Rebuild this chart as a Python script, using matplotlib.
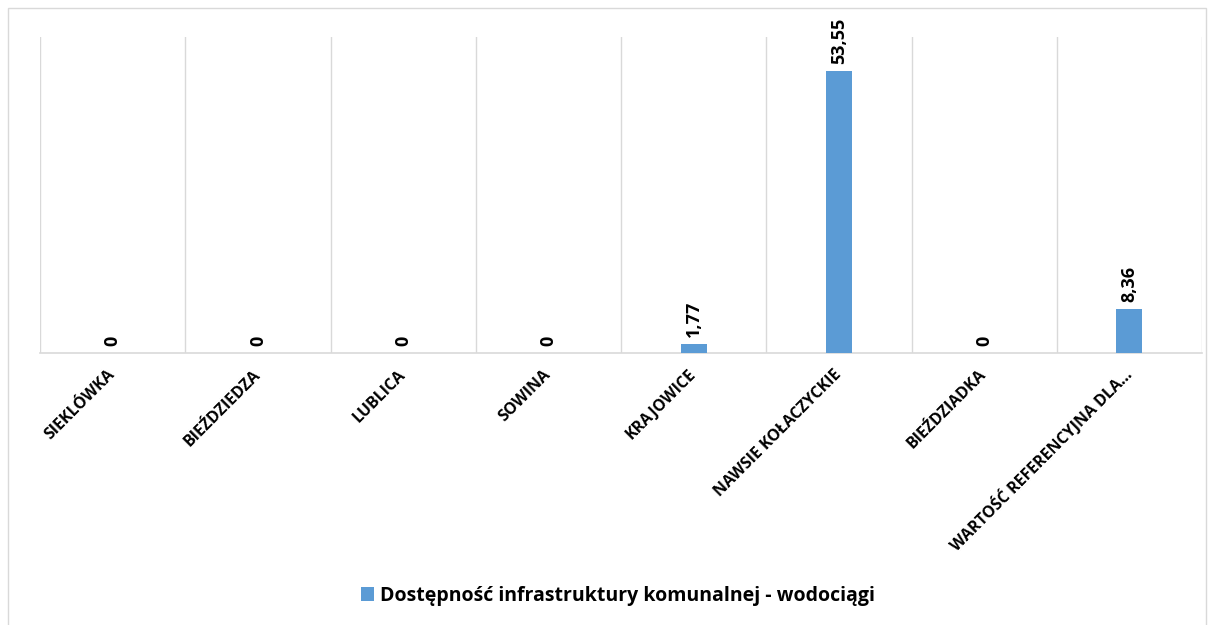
import matplotlib.pyplot as plt
from matplotlib.patches import Rectangle

categories = ['SIEKLÓWKA', 'BIEŹDZIEDZA', 'LUBLICA', 'SOWINA', 'KRAJOWICE',
              'NAWSIE KOŁACZYCKIE', 'BIEŹDZIADKA', 'WARTOŚĆ REFERENCYJNA DLA...']
values = [0, 0, 0, 0, 1.77, 53.55, 0, 8.36]
value_labels = ['0', '0', '0', '0', '1,77', '53,55', '0', '8,36']
series_name = 'Dostępność infrastruktury komunalnej - wodociągi'

BLUE = '#5B9BD5'
GRID = '#D9D9D9'
plt.rcParams['font.family'] = ['Open Sans', 'DejaVu Sans']

fig = plt.figure(figsize=(12.08, 6.25), dpi=100)
ax = fig.add_axes([40 / 1208, 1 - 353 / 625, 1162 / 1208, 316 / 625])

x = list(range(len(categories)))
bars = ax.bar(x, values, width=0.18, color=BLUE, label=series_name, zorder=3)

for xi, v, lab in zip(x, values, value_labels):
    ax.annotate(lab, (xi, v), xytext=(0, 5), textcoords='offset points',
                rotation=90, ha='center', va='bottom', fontsize=13,
                fontweight='bold', color='#000000')

# vertical gridlines between categories
for b in range(len(categories) + 1):
    ax.axvline(b - 0.5, color=GRID, lw=1, zorder=1)

ax.set_xlim(-0.5, len(categories) - 0.5)
ax.set_ylim(0, 60)
ax.set_yticks([])
ax.set_xticks(x)
ax.set_xticklabels(categories, rotation=45, ha='right', va='center',
                   rotation_mode='anchor', fontsize=11.5, fontweight='bold',
                   color='#000000')
ax.tick_params(axis='x', length=0, pad=14)
for s in ['top', 'left', 'right']:
    ax.spines[s].set_visible(False)
ax.spines['bottom'].set_color(GRID)
ax.spines['bottom'].set_linewidth(1.2)

fig.legend(handles=[bars], labels=[series_name], loc='center',
           bbox_to_anchor=(618 / 1208, 1 - 596 / 625), frameon=False,
           handlelength=0.7, handleheight=0.7, handletextpad=0.3,
           prop={'size': 14, 'weight': 'bold'})

fig.patches.append(Rectangle((8 / 1208, -0.01), 1198 / 1208, 1 - 8 / 625 + 0.01,
                             transform=fig.transFigure, fill=False,
                             edgecolor=GRID, lw=1))

fig.savefig('out.png', dpi=100)
